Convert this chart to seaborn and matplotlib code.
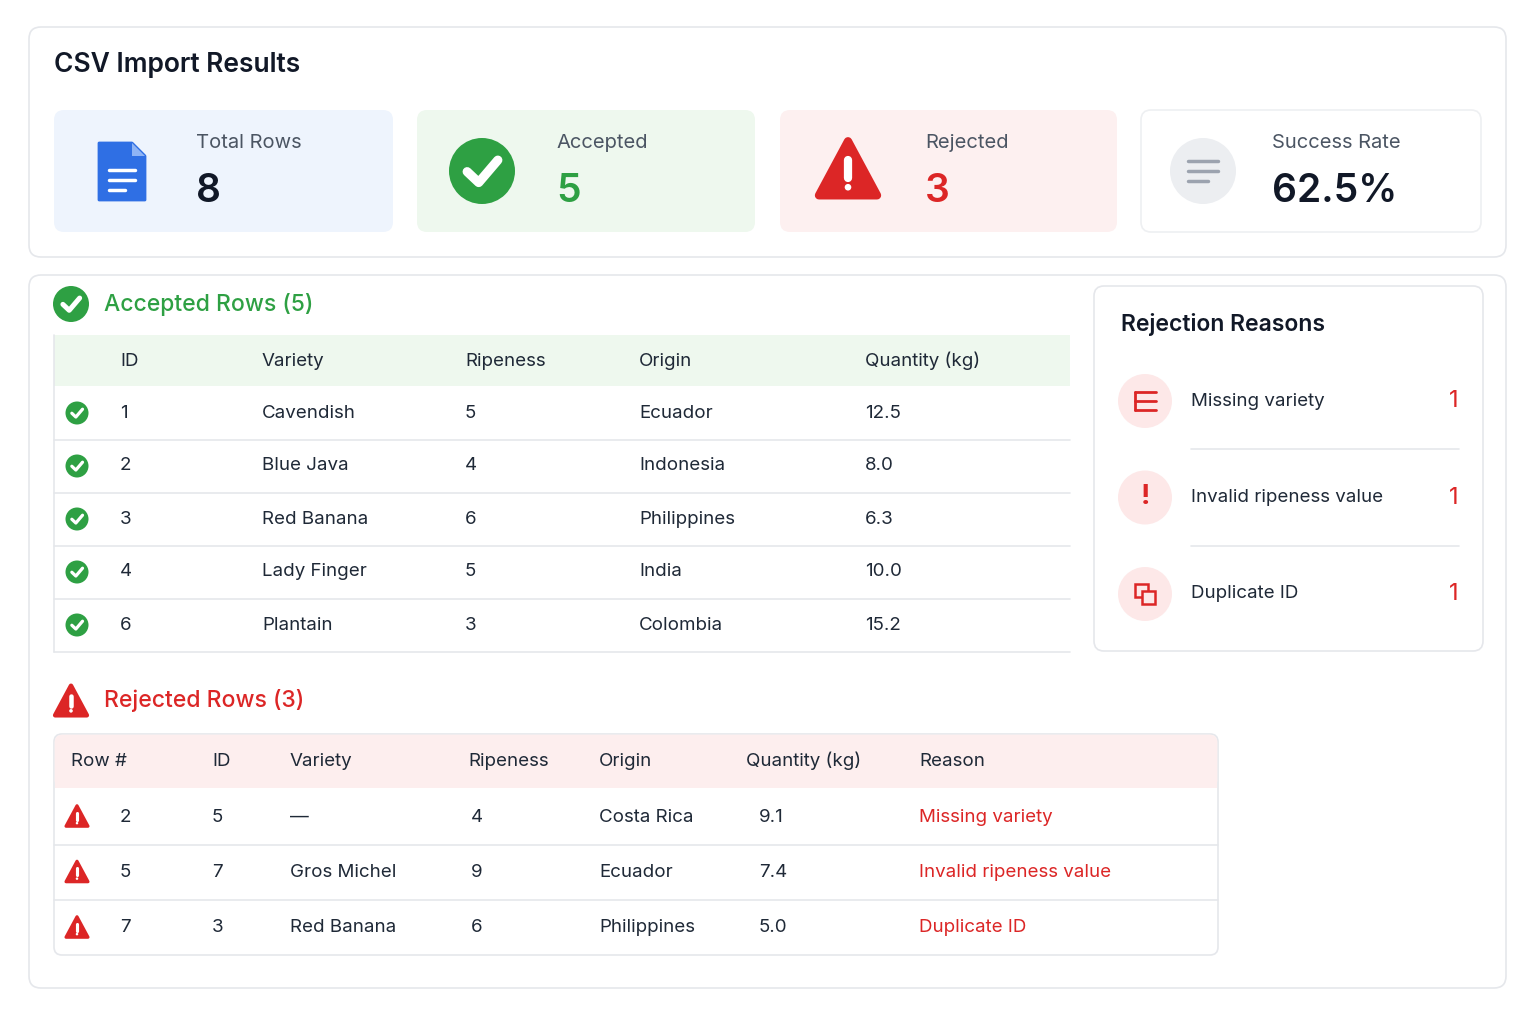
import matplotlib
matplotlib.use("Agg")
import matplotlib.pyplot as plt
import seaborn as sns
from matplotlib.patches import FancyBboxPatch, Circle, Polygon, Rectangle

# ---- data ----
stat_labels = ["Total Rows", "Accepted", "Rejected", "Success Rate"]
stat_values = ["8", "5", "3", "62.5%"]

acc_cols = ["ID", "Variety", "Ripeness", "Origin", "Quantity (kg)"]
acc_ids = ["1", "2", "3", "4", "6"]
acc_variety = ["Cavendish", "Blue Java", "Red Banana", "Lady Finger", "Plantain"]
acc_ripeness = ["5", "4", "6", "5", "3"]
acc_origin = ["Ecuador", "Indonesia", "Philippines", "India", "Colombia"]
acc_qty = ["12.5", "8.0", "6.3", "10.0", "15.2"]

rej_cols = ["Row #", "ID", "Variety", "Ripeness", "Origin", "Quantity (kg)", "Reason"]
rej_rownum = ["2", "5", "7"]
rej_ids = ["5", "7", "3"]
rej_variety = ["\u2014", "Gros Michel", "Red Banana"]
rej_ripeness = ["4", "9", "6"]
rej_origin = ["Costa Rica", "Ecuador", "Philippines"]
rej_qty = ["9.1", "7.4", "5.0"]
rej_reason = ["Missing variety", "Invalid ripeness value", "Duplicate ID"]

reason_names = ["Missing variety", "Invalid ripeness value", "Duplicate ID"]
reason_counts = [1, 1, 1]

GREEN = "#2ea043"
RED = "#dc2626"
BLUE = "#2f6fe4"
DARK = "#111827"
TEXT = "#1f2937"
MUTED = "#4b5563"
BORDER = "#e5e7eb"
FS = 13.5

sns.set_theme(style="white")
plt.rcParams['font.family'] = ['Inter', 'DejaVu Sans']

fig = plt.figure(figsize=(15.36, 10.24), dpi=100)
ax = fig.add_axes([0, 0, 1, 1])
ax.set_xlim(0, 1536)
ax.set_ylim(1024, 0)
ax.axis("off")


def card(x0, y0, x1, y1, fc="white", ec=BORDER, r=10, lw=1.2, z=1):
    ax.add_patch(FancyBboxPatch((x0, y0), x1 - x0, y1 - y0,
                                boxstyle=f"round,pad=0,rounding_size={r}",
                                fc=fc, ec=ec, lw=lw, zorder=z))


def check_icon(cx, cy, r, z=5):
    ax.add_patch(Circle((cx, cy), r, fc=GREEN, ec="none", zorder=z))
    ax.plot([cx - r * 0.45, cx - r * 0.1, cx + r * 0.48],
            [cy + r * 0.02, cy + r * 0.35, cy - r * 0.33],
            color="white", lw=r * 0.2, solid_capstyle="round",
            solid_joinstyle="round", zorder=z + 1)


def warn_icon(cx, cy, s, z=5):
    # s = visual width of the triangle
    w = s * 0.44
    h = s * 0.82
    ax.add_patch(Polygon([[cx, cy - h * 0.55], [cx + w, cy + h * 0.45],
                          [cx - w, cy + h * 0.45]], closed=True,
                         fc=RED, ec=RED, lw=s * 0.09, joinstyle="round", zorder=z))
    ax.plot([cx, cx], [cy - h * 0.2, cy + h * 0.13], color="white",
            lw=s * 0.09, solid_capstyle="round", zorder=z + 1)
    ax.add_patch(Circle((cx, cy + h * 0.3), s * 0.05, fc="white", ec="none", zorder=z + 1))


# ---- outer cards ----
card(29, 27, 1506, 257, r=12)
card(29, 275, 1506, 988, r=12)

ax.text(54, 65, "CSV Import Results", fontsize=19, fontweight="semibold",
        color=DARK, va="center")

# ---- stat cards ----
stat_boxes = [(54, 393, "#eef4fd", "none"), (417, 755, "#eef8ee", "none"),
              (780, 1117, "#fdf0f0", "none"), (1141, 1481, "white", "#eef0f2")]
stat_text_x = [196, 556, 925, 1272]
stat_colors = [DARK, GREEN, RED, DARK]
icon_x = [122, 482, 848, 1203]
for i, (x0, x1, fc, ec) in enumerate(stat_boxes):
    card(x0, 110, x1, 232, fc=fc, ec=ec, r=10, z=2)
    ax.text(stat_text_x[i], 143, stat_labels[i], fontsize=14.5, color=MUTED, va="center", zorder=3)
    ax.text(stat_text_x[i], 191, stat_values[i], fontsize=28, fontweight="semibold",
            color=stat_colors[i], va="center", zorder=3)

# document icon
ix, iy = icon_x[0], 171
ax.add_patch(Polygon([[ix - 23, iy - 28], [ix + 10, iy - 28], [ix + 23, iy - 15],
                      [ix + 23, iy + 29], [ix - 23, iy + 29]], closed=True,
                     fc=BLUE, ec=BLUE, lw=2, joinstyle="round", zorder=4))
ax.add_patch(Polygon([[ix + 10, iy - 28], [ix + 10, iy - 15], [ix + 23, iy - 15]],
                     closed=True, fc="#8fb4f5", ec="none", zorder=5))
for dy, w in [(-1, 26), (9, 26), (19, 16)]:
    ax.plot([ix - 13, ix - 13 + w], [iy + dy, iy + dy], color="white", lw=2.5, zorder=5)
check_icon(icon_x[1], 171, 33)
warn_icon(icon_x[2], 171, 66)
ax.add_patch(Circle((icon_x[3], 171), 33, fc="#eceef1", ec="none", zorder=4))
for dy, w in [(-10, 30), (0, 30), (10, 20)]:
    ax.plot([icon_x[3] - 15, icon_x[3] - 15 + w], [171 + dy, 171 + dy],
            color="#9ca3af", lw=2.5, solid_capstyle="round", zorder=5)

# ---- accepted table ----
check_icon(71, 304, 18)
ax.text(104, 304, f"Accepted Rows ({len(acc_ids)})", fontsize=16.5,
        fontweight="medium", color=GREEN, va="center")
ax.add_patch(Rectangle((54, 335), 1016, 51, fc="#eef8ee", ec="none", zorder=2))
acc_x = [120, 262, 465, 639, 865]
for x, c in zip(acc_x, acc_cols):
    ax.text(x, 361, c, fontsize=FS, color=TEXT, va="center", zorder=3)
acc_data = [acc_ids, acc_variety, acc_ripeness, acc_origin, acc_qty]
for r in range(len(acc_ids)):
    cy = 413 + r * 53
    check_icon(77, cy, 11.5)
    for x, col in zip(acc_x, acc_data):
        ax.text(x, cy, col[r], fontsize=FS, color=TEXT, va="center", zorder=3)
    ax.plot([54, 1070], [cy + 26.5, cy + 26.5], color=BORDER, lw=1.2, zorder=2)
ax.plot([54, 54], [335, 652], color=BORDER, lw=1.2, zorder=2)

# ---- rejected table ----
warn_icon(71, 702, 36)
ax.text(104, 701, f"Rejected Rows ({len(rej_ids)})", fontsize=16.5,
        fontweight="medium", color=RED, va="center")
card(54, 734, 1218, 955, fc="white", ec=BORDER, r=8, z=2)
ax.add_patch(FancyBboxPatch((54.6, 734.6), 1162.8, 53.4,
                            boxstyle="round,pad=0,rounding_size=8",
                            fc="#fdeeee", ec="none", zorder=2.5))
ax.add_patch(Rectangle((54.6, 770), 1162.8, 18, fc="#fdeeee", ec="none", zorder=2.5))
rej_hx = [71, 212, 290, 468, 599, 746, 919]
for x, c in zip(rej_hx, rej_cols):
    ax.text(x, 761, c, fontsize=FS, color=TEXT, va="center", zorder=3)
rej_x = [120, 212, 290, 471, 599, 759, 919]
rej_data = [rej_rownum, rej_ids, rej_variety, rej_ripeness, rej_origin, rej_qty, rej_reason]
for r in range(len(rej_ids)):
    cy = 817 + r * 55.5
    warn_icon(77, cy, 25)
    for j, (x, col) in enumerate(zip(rej_x, rej_data)):
        ax.text(x, cy, col[r], fontsize=FS, color=RED if j == 6 else TEXT,
                va="center", zorder=3)
    if r < len(rej_ids) - 1:
        ax.plot([54, 1218], [cy + 27.5, cy + 27.5], color=BORDER, lw=1.2, zorder=3)

# ---- rejection reasons panel ----
card(1094, 286, 1483, 651, r=10, z=2)
ax.text(1121, 325, "Rejection Reasons", fontsize=16.5, fontweight="semibold",
        color=DARK, va="center", zorder=3)
for k, (name, cnt) in enumerate(zip(reason_names, reason_counts)):
    cy = 401 + k * 96.5
    ax.add_patch(Circle((1145, cy), 27, fc="#fde8e8", ec="none", zorder=3))
    if k == 0:
        for dy in (-9, 0, 9):
            ax.plot([1135, 1156], [cy + dy, cy + dy], color=RED, lw=2, zorder=4)
        ax.plot([1135, 1135], [cy - 9, cy + 9], color=RED, lw=2, zorder=4)
    elif k == 1:
        ax.text(1145, cy, "!", fontsize=20, fontweight="bold", color=RED,
                ha="center", va="center", zorder=4)
    else:
        ax.add_patch(Rectangle((1135, cy - 10), 13, 13, fc="none", ec=RED, lw=1.8, zorder=4))
        ax.add_patch(Rectangle((1142, cy - 3), 13, 13, fc="#fde8e8", ec=RED, lw=1.8, zorder=4))
    ax.text(1191, cy, name, fontsize=FS, color=TEXT, va="center", zorder=3)
    ax.text(1459, cy, str(cnt), fontsize=17, color=RED, ha="right", va="center", zorder=3)
    if k < len(reason_names) - 1:
        ax.plot([1191, 1459], [cy + 48, cy + 48], color=BORDER, lw=1.2, zorder=3)

fig.savefig("out.png", dpi=100, facecolor="white")
